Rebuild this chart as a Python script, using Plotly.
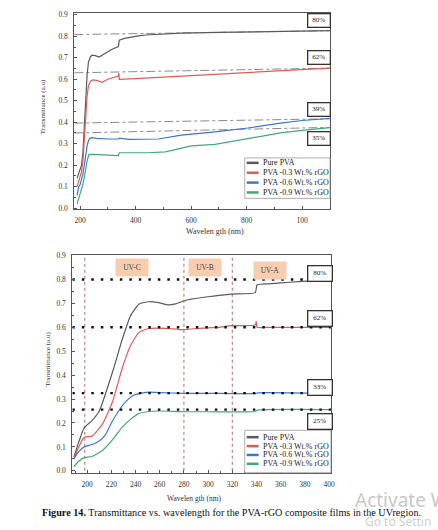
import plotly.graph_objects as go

W, H = 438, 530
def px(x): return x / W
def py(y): return 1 - y / H

SERIES = ["Pure PVA", "PVA -0.3 Wt.% rGO", "PVA -0.6 Wt.% rGO", "PVA -0.9 Wt.% rGO"]
COLORS = ["#5a5a5a", "#e35a57", "#3d74d6", "#43a878"]

# ---------------- top panel (full range) ----------------
top_wl_pure = [189, 195, 200, 205, 210, 215, 220, 225, 230, 237, 243, 255, 268, 280, 295, 315, 338, 341, 360, 386, 410, 436, 480, 564, 700, 850, 1000, 1100]
top_pure = [0.14, 0.16, 0.18, 0.20, 0.26, 0.38, 0.52, 0.62, 0.68, 0.705, 0.712, 0.71, 0.703, 0.712, 0.725, 0.74, 0.752, 0.782, 0.79, 0.797, 0.802, 0.806, 0.81, 0.815, 0.818, 0.821, 0.824, 0.826]
top_wl_03 = [189, 195, 200, 205, 210, 215, 220, 225, 230, 237, 245, 260, 279, 300, 329, 338, 339.5, 341, 400, 500, 564, 700, 804, 950, 1100]
top_03 = [0.10, 0.13, 0.15, 0.17, 0.22, 0.30, 0.42, 0.52, 0.57, 0.59, 0.597, 0.595, 0.586, 0.60, 0.612, 0.615, 0.629, 0.60, 0.603, 0.61, 0.615, 0.623, 0.633, 0.643, 0.652]
top_wl_06 = [189, 195, 200, 205, 210, 215, 220, 225, 230, 235, 243, 260, 300, 339, 341, 375, 482, 564, 686, 804, 921, 1000, 1100]
top_06 = [0.06, 0.10, 0.11, 0.13, 0.16, 0.20, 0.25, 0.29, 0.315, 0.325, 0.328, 0.325, 0.322, 0.322, 0.326, 0.32, 0.322, 0.34, 0.355, 0.373, 0.396, 0.408, 0.418]
top_wl_09 = [189, 195, 200, 205, 210, 215, 220, 225, 232, 245, 280, 338, 341, 446, 507, 560, 600, 686, 804, 921, 1000, 1100]
top_09 = [0.02, 0.05, 0.07, 0.09, 0.11, 0.14, 0.18, 0.22, 0.25, 0.25, 0.247, 0.245, 0.258, 0.258, 0.262, 0.28, 0.29, 0.297, 0.325, 0.35, 0.362, 0.375]

top_ref_left = [0.808, 0.630, 0.396, 0.350]
top_ref_right = [0.826, 0.652, 0.416, 0.376]
top_labels = ["80%", "62%", "39%", "35%"]
top_xticks = [200, 400, 600, 800, 1000]
top_xticktext = ["200", "400", "600", "800", "100"]

# ---------------- bottom panel (UV region) ----------------
bot_wl_pure = [189, 193, 197.5, 204, 210, 215, 222, 229, 236, 243, 251, 259, 267, 273, 279.5, 286, 300, 319, 339, 340.5, 350, 360, 375, 388, 400]
bot_pure = [0.058, 0.12, 0.18, 0.21, 0.25, 0.32, 0.43, 0.55, 0.65, 0.698, 0.707, 0.703, 0.694, 0.698, 0.71, 0.718, 0.728, 0.739, 0.745, 0.778, 0.782, 0.786, 0.791, 0.795, 0.80]
bot_wl_03 = [189, 193, 197.5, 204, 212.6, 221, 229, 236, 243, 251, 260, 267, 279.5, 286, 300, 309, 319, 339, 339.8, 340.5, 350, 400]
bot_03 = [0.05, 0.10, 0.14, 0.145, 0.195, 0.29, 0.43, 0.525, 0.58, 0.595, 0.597, 0.595, 0.59, 0.593, 0.598, 0.60, 0.607, 0.61, 0.625, 0.60, 0.60, 0.60]
bot_wl_06 = [189, 193, 197.5, 204, 210, 215, 220, 226, 232, 238, 245, 252, 260, 280, 300, 339, 341, 400]
bot_06 = [0.05, 0.08, 0.10, 0.11, 0.125, 0.15, 0.20, 0.25, 0.29, 0.315, 0.325, 0.329, 0.327, 0.324, 0.324, 0.323, 0.326, 0.323]
bot_wl_09 = [189, 193, 197.5, 204, 212.6, 221, 229, 236, 243, 251, 260, 280, 300, 339, 341, 400]
bot_09 = [0.018, 0.04, 0.055, 0.06, 0.085, 0.13, 0.183, 0.216, 0.24, 0.248, 0.25, 0.247, 0.247, 0.248, 0.254, 0.256]

bot_ref = [0.80, 0.60, 0.325, 0.256]
bot_labels = ["80%", "62%", "33%", "25%"]
bot_vlines = [198, 280, 320]
uv_bands = ["UV-C", "UV-B", "UV-A"]
bot_xticks = [200, 220, 240, 260, 280, 300, 320, 340, 360, 380, 400]

FONT = "Liberation Serif"
fig = go.Figure()

top_sets = [(top_wl_pure, top_pure), (top_wl_03, top_03), (top_wl_06, top_06), (top_wl_09, top_09)]
bot_sets = [(bot_wl_pure, bot_pure), (bot_wl_03, bot_03), (bot_wl_06, bot_06), (bot_wl_09, bot_09)]

shapes = []
annotations = []

def note(x, y, text, **kw):
    d = dict(x=px(x), y=py(y), xref="paper", yref="paper", text=text, showarrow=False,
             xanchor="center", yanchor="middle")
    d.update(kw)
    annotations.append(d)

# reference lines top (drawn first, under curves)
for l, r in zip(top_ref_left, top_ref_right):
    fig.add_trace(go.Scatter(x=[179, 1100], y=[l, r], mode="lines", xaxis="x", yaxis="y",
                             line=dict(color="#8a8a8a", width=1, dash="dashdot"), showlegend=False, hoverinfo="skip"))
for (xs, ys), c, n in zip(top_sets, COLORS, SERIES):
    fig.add_trace(go.Scatter(x=xs, y=ys, mode="lines", name=n, xaxis="x", yaxis="y",
                             line=dict(color=c, width=1.2), showlegend=False))

# bottom: vertical dotted lines and horizontal reference lines
for v in bot_vlines:
    fig.add_trace(go.Scatter(x=[v, v], y=[0, 0.904], mode="lines", xaxis="x2", yaxis="y2",
                             line=dict(color="#b06a6a", width=1, dash="dot"), showlegend=False, hoverinfo="skip"))
for (xs, ys), c, n in zip(bot_sets, COLORS, SERIES):
    fig.add_trace(go.Scatter(x=xs, y=ys, mode="lines", name=n, xaxis="x2", yaxis="y2",
                             line=dict(color=c, width=1.2, shape="spline", smoothing=0.5), showlegend=False))
for r in bot_ref:
    fig.add_trace(go.Scatter(x=[187.7, 401.6], y=[r, r], mode="lines", xaxis="x2", yaxis="y2",
                             line=dict(color="#111111", width=2.4, dash="2.5px,7px"), showlegend=False, hoverinfo="skip"))

# percentage boxes
top_box_y = [18, 55, 108, 137]
for t, yy in zip(top_labels, top_box_y):
    note(322, yy, t, font=dict(family=FONT, size=7, color="#222"), bgcolor="white",
         bordercolor="#333", borderwidth=1.3, borderpad=2, width=17)
bot_box_y = [274, 320, 390, 424]
for t, yy in zip(bot_labels, bot_box_y):
    note(323, yy, t, font=dict(family=FONT, size=7, color="#222"), bgcolor="white",
         bordercolor="#333", borderwidth=1.3, borderpad=3, width=17)

# UV band labels
uv_pos = [(133, 268), (207, 268), (272, 271)]
for t, (xx, yy) in zip(uv_bands, uv_pos):
    note(xx, yy, t, font=dict(family=FONT, size=7.5, color="#444"), bgcolor="#f8cdb0",
         borderpad=4, width=24)

# custom legends
def legend(x0, x1, y0, y1, rows):
    shapes.append(dict(type="rect", xref="paper", yref="paper", x0=px(x0), x1=px(x1), y0=py(y1), y1=py(y0),
                       line=dict(color="#9a9a9a", width=0.8), fillcolor="white", layer="above"))
    for (n, c), ry in zip(zip(SERIES, COLORS), rows):
        shapes.append(dict(type="line", xref="paper", yref="paper", x0=px(x0 + 2), x1=px(x0 + 14),
                           y0=py(ry), y1=py(ry), line=dict(color=c, width=2.5), layer="above"))
        note(x0 + 16, ry, n, xanchor="left", font=dict(family=FONT, size=8, color="#222"))

legend(247, 333, 157, 198, [162, 172, 182, 192])
legend(247, 334, 433, 476, [440, 449, 458, 467])

# axis titles and caption
note(43, 105, "Transmittance (a.u)", textangle=-90, font=dict(family=FONT, size=7, color="#333"))
note(49, 361, "Transmittance (a.u)", textangle=-90, font=dict(family=FONT, size=7, color="#333"))
note(217, 232, "Wavelen gth (nm)", font=dict(family=FONT, size=8, color="#333"))
note(196, 502, "Wavelen gth (nm)", font=dict(family=FONT, size=7.5, color="#333"))
note(234, 516, "<b>Figure 14.</b> Transmittance vs. wavelength for the PVA-rGO composite films in the UVregion.",
     font=dict(family=FONT, size=10.2, color="#111"))
note(356, 504, "Activate W", xanchor="left", font=dict(family="Noto Sans", size=19, color="#c9c9c9"))
note(366, 525, "Go to Settin", xanchor="left", font=dict(family="Noto Sans", size=12, color="#d0d0d0"))

axis_common = dict(showline=True, mirror=True, linecolor="#555", linewidth=1, showgrid=False, zeroline=False,
                   ticks="inside", ticklen=3, tickcolor="#555",
                   tickfont=dict(family=FONT, size=7.5, color="#333"), ticklabelstandoff=4)

fig.update_layout(
    width=W, height=H, margin=dict(l=0, r=0, t=0, b=0),
    paper_bgcolor="white", plot_bgcolor="white", showlegend=False,
    xaxis=dict(domain=[px(75), px(333)], range=[179, 1100], anchor="y", tickmode="array",
               tickvals=top_xticks, ticktext=top_xticktext,
               minor=dict(tickvals=[300, 500, 700, 900], ticks="inside", ticklen=2, tickcolor="#555"),
               **axis_common),
    yaxis=dict(domain=[py(209), py(10)], range=[-0.005, 0.909], anchor="x", dtick=0.1, tickformat=".1f",
               minor=dict(dtick=0.05, ticks="inside", ticklen=2, tickcolor="#555"), **axis_common),
    xaxis2=dict(domain=[px(73), px(334)], range=[187.7, 401.6], anchor="y2", tickmode="array",
                tickvals=bot_xticks,
                minor=dict(dtick=10, tick0=190, ticks="inside", ticklen=2, tickcolor="#555"),
                **axis_common),
    yaxis2=dict(domain=[py(476), py(255)], range=[-0.008, 0.904], anchor="x2", dtick=0.1, tickformat=".1f",
                minor=dict(dtick=0.05, ticks="inside", ticklen=2, tickcolor="#555"), **axis_common),
    shapes=shapes, annotations=annotations,
)

fig.write_html("out.html")
